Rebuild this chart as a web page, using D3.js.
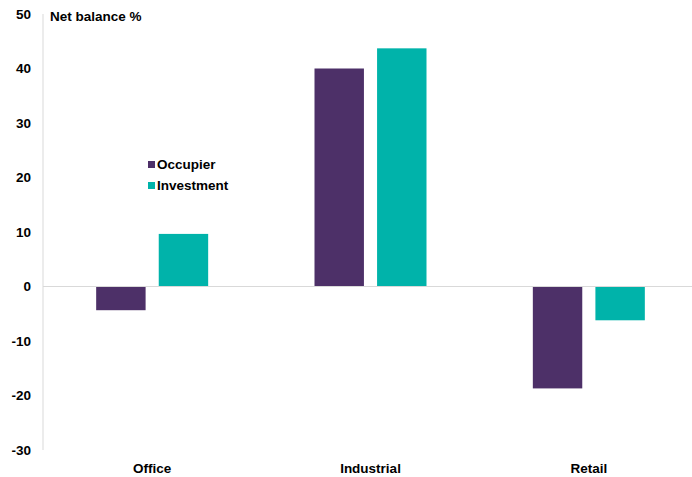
<!DOCTYPE html>
<html>
<head>
<meta charset="utf-8">
<script src="https://cdn.jsdelivr.net/npm/d3@7"></script>
<style>
  html, body { margin: 0; padding: 0; background: #fff; }
  svg { display: block; }
  text { font-family: "Liberation Sans", Arial, sans-serif; font-weight: bold; fill: #000; }
</style>
</head>
<body>
<svg id="chart" width="692" height="477"></svg>
<script>
// Net balance by sector
const categories = ["Office", "Industrial", "Retail"];
const seriesNames = ["Occupier", "Investment"];
const occupier = [-4.35, 40.0, -18.7];
const investment = [9.65, 43.7, -6.2];
const yTicks = [-30, -20, -10, 0, 10, 20, 30, 40, 50];
const colors = ["#4d3068", "#00b3aa"];
const fontSize = "13.5px";

const svg = d3.select("#chart");
const plot = { left: 43, right: 698, top: 14, bottom: 450 };

const y = d3.scaleLinear().domain([-30, 50]).range([plot.bottom, plot.top]);
const x0 = d3.scaleBand().domain(categories).range([plot.left, plot.right]).padding(0);
const groupHalf = 56;
const x1 = d3.scaleBand().domain(seriesNames)
  .range([x0.bandwidth() / 2 - groupHalf, x0.bandwidth() / 2 + groupHalf])
  .paddingInner(0.21).paddingOuter(0);

// y axis line
svg.append("line")
  .attr("x1", plot.left).attr("x2", plot.left)
  .attr("y1", y(50)).attr("y2", y(-30))
  .attr("stroke", "#d9d9d9").attr("stroke-width", 1);

// y tick labels (plain hyphen for negatives)
const yAxis = d3.axisLeft(y).tickValues(yTicks).tickSize(0).tickPadding(12).tickFormat(d => String(d));
const yg = svg.append("g").attr("transform", `translate(${plot.left},0)`).call(yAxis);
yg.select(".domain").remove();
yg.selectAll("text").style("font-size", fontSize).style("font-family", "'Liberation Sans', Arial, sans-serif").style("font-weight", "bold").attr("fill", "#000");

// bars
const rows = categories.map((c, i) => ({ cat: c, vals: [occupier[i], investment[i]] }));
const groups = svg.append("g").selectAll("g").data(rows).join("g")
  .attr("transform", d => `translate(${x0(d.cat)},0)`);
groups.selectAll("rect")
  .data(d => d.vals.map((v, j) => ({ name: seriesNames[j], v, j })))
  .join("rect")
  .attr("x", d => x1(d.name))
  .attr("width", x1.bandwidth())
  .attr("y", d => y(Math.max(0, d.v)))
  .attr("height", d => Math.abs(y(d.v) - y(0)))
  .attr("fill", d => colors[d.j]);

// zero line
svg.append("line")
  .attr("x1", plot.left).attr("x2", 692)
  .attr("y1", y(0)).attr("y2", y(0))
  .attr("stroke", "#d9d9d9").attr("stroke-width", 1);

// category labels
const xAxis = d3.axisBottom(x0).tickSize(0).tickPadding(0);
const xg = svg.append("g").attr("transform", `translate(0,${plot.bottom + 13})`).call(xAxis);
xg.select(".domain").remove();
xg.selectAll("text").attr("dy", "0.71em").style("font-size", fontSize).style("font-family", "'Liberation Sans', Arial, sans-serif").style("font-weight", "bold").attr("fill", "#000");

// axis title
svg.append("text").attr("x", 50).attr("y", 20.5).style("font-size", fontSize).text("Net balance %");

// legend
const legend = svg.append("g").attr("transform", "translate(148,161)");
seriesNames.forEach((name, i) => {
  const g = legend.append("g").attr("transform", `translate(0,${i * 21})`);
  g.append("rect").attr("width", 7).attr("height", 7).attr("fill", colors[i]);
  g.append("text").attr("x", 9).attr("y", 7.5).style("font-size", fontSize).text(name);
});
</script>
</body>
</html>
